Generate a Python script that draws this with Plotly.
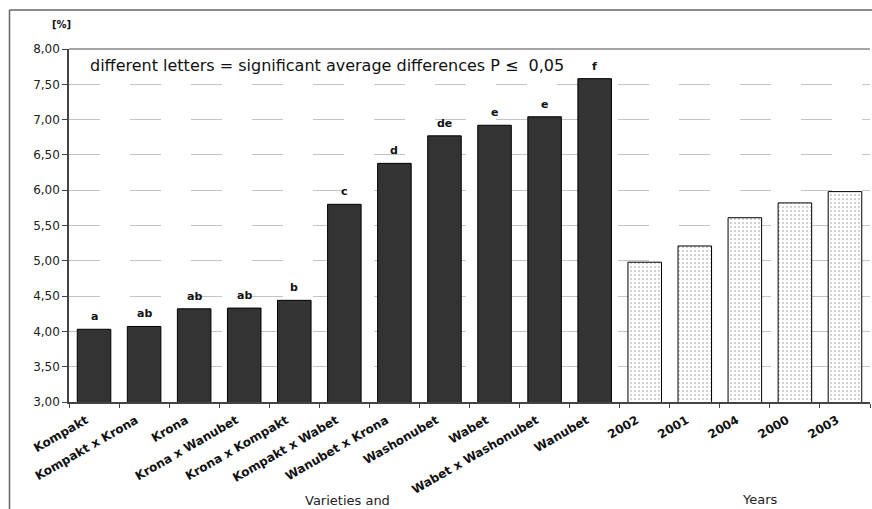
import plotly.graph_objects as go

variety_names = ["Kompakt", "Kompakt x Krona", "Krona", "Krona x Wanubet", "Krona x Kompakt",
                 "Kompakt x Wabet", "Wanubet x Krona", "Washonubet", "Wabet",
                 "Wabet x Washonubet", "Wanubet"]
variety_values = [4.03, 4.07, 4.32, 4.33, 4.44, 5.80, 6.38, 6.77, 6.92, 7.04, 7.58]
variety_letters = ["a", "ab", "ab", "ab", "b", "c", "d", "de", "e", "e", "f"]

year_names = ["2002", "2001", "2004", "2000", "2003"]
year_values = [4.98, 5.21, 5.61, 5.82, 5.98]
year_letters = ["a", "ab", "ab", "b", "b"]

y_ticks = [3.0, 3.5, 4.0, 4.5, 5.0, 5.5, 6.0, 6.5, 7.0, 7.5, 8.0]

categories = variety_names + year_names

W, H = 872, 509
# plot area in window pixels: x 69..870, y 49..402
ml, mt = 69, 49
mr = W - 870
mb = H - 402
pw, ph = W - ml - mr, H - mt - mb


def px(x):
    return (x - ml) / pw


def py(y):
    return 1 - (y - mt) / ph


fig = go.Figure()
fig.add_trace(go.Bar(
    x=variety_names, y=variety_values, width=0.67,
    marker=dict(color="#333333", line=dict(color="#000000", width=1)),
    showlegend=False, hoverinfo="x+y"))
fig.add_trace(go.Bar(
    x=year_names, y=year_values, width=0.67,
    marker=dict(color="#ffffff", line=dict(color="#000000", width=1),
                pattern=dict(shape=".", fgcolor="#222222", bgcolor="#ffffff",
                             size=4, solidity=0.12)),
    showlegend=False, hoverinfo="x+y"))

letter_font = dict(family="DejaVu Sans", size=11, color="#111111", weight="bold")
annotations = []
for name, val, lab in zip(variety_names + year_names, variety_values + year_values,
                          variety_letters + year_letters):
    annotations.append(dict(x=name, y=val, xref="x", yref="y", text=lab, showarrow=False,
                            yanchor="bottom", yshift=4, font=letter_font))

annotations.append(dict(x=px(88), y=py(66), xref="paper", yref="paper",
                        text="different letters = significant average differences P ≤  0,05",
                        showarrow=False, xanchor="left", yanchor="middle",
                        font=dict(family="DejaVu Sans", size=16, color="#111111")))
annotations.append(dict(x=px(61), y=py(25), xref="paper", yref="paper", text="[%]",
                        showarrow=False, xanchor="center", yanchor="middle",
                        font=dict(family="DejaVu Sans", size=10, color="#111111", weight="bold")))
annotations.append(dict(x=px(347), y=py(500), xref="paper", yref="paper", text="Varieties and",
                        showarrow=False, xanchor="center", yanchor="middle",
                        font=dict(family="DejaVu Sans", size=13, color="#222222")))
annotations.append(dict(x=px(760), y=py(499), xref="paper", yref="paper", text="Years",
                        showarrow=False, xanchor="center", yanchor="middle",
                        font=dict(family="DejaVu Sans", size=13, color="#222222")))

shapes = [
    # outer chart frame
    dict(type="line", xref="paper", yref="paper", x0=px(9.5), x1=px(9.5), y0=py(10), y1=py(600),
         line=dict(color="#666666", width=1.5)),
    dict(type="line", xref="paper", yref="paper", x0=px(9.5), x1=px(900), y0=py(10), y1=py(10),
         line=dict(color="#666666", width=1.5)),
    # top border of plot area
    dict(type="line", xref="paper", yref="paper", x0=0, x1=1, y0=1, y1=1,
         line=dict(color="#888888", width=1.5)),
]

fig.update_layout(
    width=W, height=H,
    margin=dict(l=ml, r=mr, t=mt, b=mb, autoexpand=False),
    paper_bgcolor="white", plot_bgcolor="white",
    barmode="overlay",
    separators=", ",
    annotations=annotations,
    shapes=shapes,
    xaxis=dict(type="category", categoryorder="array", categoryarray=categories,
               range=[-0.5, len(categories) - 0.5],
               tickangle=-30, showline=True, linecolor="#444444", linewidth=1.5,
               ticks="outside", tickson="boundaries", ticklen=4, tickcolor="#444444",
               ticklabelstandoff=5, ticklabelshift=-8,
               showgrid=False, automargin=False,
               tickfont=dict(family="DejaVu Sans", size=12, color="#111111", weight="bold")),
    yaxis=dict(range=[3, 8], tickvals=y_ticks, tickformat=".2f",
               showline=True, linecolor="#444444", linewidth=1.5,
               ticks="outside", ticklen=5, tickcolor="#444444",
               showgrid=True, gridcolor="#c4c4c4", gridwidth=1, griddash="31px,30px",
               zeroline=False, automargin=False,
               tickfont=dict(family="DejaVu Sans", size=12, color="#222222")),
)

fig.write_html("out.html", config={"displayModeBar": False},
               post_script="document.body.style.margin='0';document.body.style.overflow='hidden';")
